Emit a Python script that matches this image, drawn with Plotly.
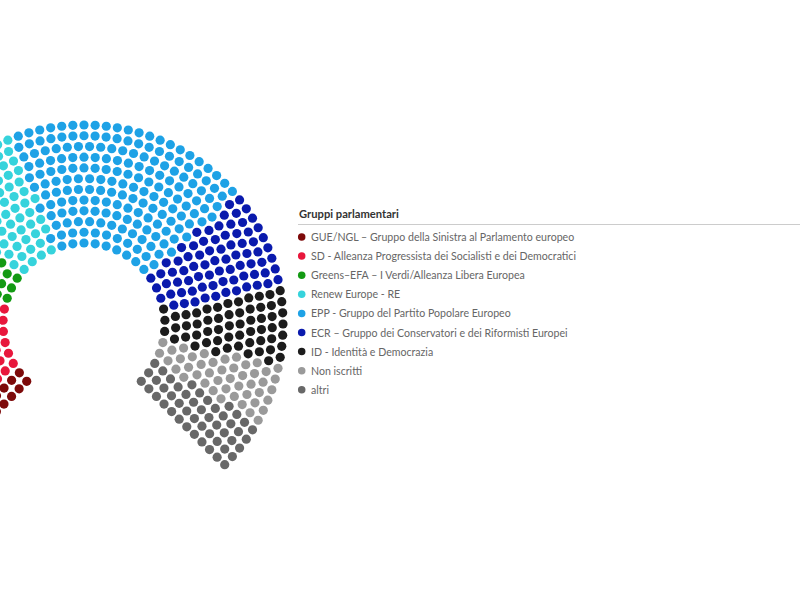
import math
import plotly.graph_objects as go

# ---- data ----
groups = [
    "GUE/NGL – Gruppo della Sinistra al Parlamento europeo",
    "SD - Alleanza Progressista dei Socialisti e dei Democratici",
    "Greens–EFA – I Verdi/Alleanza Libera Europea",
    "Renew Europe - RE",
    "EPP - Gruppo del Partito Popolare Europeo",
    "ECR – Gruppo dei Conservatori e dei Riformisti Europei",
    "ID - Identità e Democrazia",
    "Non iscritti",
    "altri",
]
seats = [36, 136, 52, 80, 189, 76, 58, 45, 48]
colors = ["#7d0a0a", "#e8173c", "#139a13", "#36d3dc", "#1ea2e6",
          "#0a1aad", "#1c1c1c", "#9a9a9a", "#686868"]
legend_title = "Gruppi parlamentari"

# ---- hemicycle layout (item-series style) ----
CX, CY = 84, 324          # centre in pixel space
R_IN, R_OUT, N_ROWS = 81.0, 199.0, 12
STEP = (R_OUT - R_IN) / (N_ROWS - 1)
START_DEG, END_DEG = -135, 135


def hemicycle(total):
    start = math.radians(START_DEG - 90)
    full = math.radians(END_DEG - START_DEG)
    rows = []
    count = 0
    for r in range(N_ROWS):
        rad = R_IN + r * STEP
        length = rad * full
        cc = math.ceil(length / STEP)
        rows.append([rad, length, cc])
        count += cc + 1
    overshoot = count - total
    while overshoot > 0:
        order = sorted(rows, key=lambda row: -(row[2] / row[1]))
        for row in order[:min(overshoot, math.ceil(len(rows) / 2))]:
            if overshoot > 0:
                row[2] -= 1
                overshoot -= 1
    slots = []
    for rad, length, cc in rows:
        inc = full / cc
        for c in range(cc + 1):
            a = start + c * inc
            slots.append((a, CX + math.cos(a) * rad, CY + math.sin(a) * rad))
    slots.sort(key=lambda s: s[0])
    return slots


slots = hemicycle(sum(seats))

fig = go.Figure()
idx = 0
for name, n, col in zip(groups, seats, colors):
    pts = slots[idx:idx + n]
    idx += n
    fig.add_trace(go.Scatter(
        x=[p[1] for p in pts], y=[p[2] for p in pts], mode="markers",
        marker=dict(size=9.2, color=col, line=dict(width=0)),
        name=name, showlegend=False, hoverinfo="name"))

# ---- custom legend ----
LX, LY0, LDY = 301.7, 237, 19.1
fig.add_trace(go.Scatter(
    x=[LX] * len(groups), y=[LY0 + i * LDY for i in range(len(groups))],
    mode="markers", marker=dict(size=7.5, color=colors),
    showlegend=False, hoverinfo="skip"))
annotations = [dict(x=297, y=213, xref="x", yref="y", text="<b>" + legend_title + "</b>",
                    showarrow=False, xanchor="left", yanchor="middle",
                    font=dict(family="Lato", size=11.2, color="#333333"))]
for i, name in enumerate(groups):
    annotations.append(dict(x=309, y=LY0 + i * LDY, xref="x", yref="y", text=name,
                            showarrow=False, xanchor="left", yanchor="middle",
                            font=dict(family="Lato", size=10.6, color="#666666")))

fig.update_layout(
    width=800, height=600, margin=dict(l=0, r=0, t=0, b=0),
    paper_bgcolor="white", plot_bgcolor="white",
    xaxis=dict(range=[0, 800], visible=False, fixedrange=True),
    yaxis=dict(range=[600, 0], visible=False, fixedrange=True),
    annotations=annotations,
    shapes=[dict(type="line", xref="x", yref="y", x0=298, x1=800, y0=224.5, y1=224.5,
                 line=dict(color="#cccccc", width=1))],
    showlegend=False,
)
fig.write_html("out.html", config={"displayModeBar": False},
               post_script="document.body.style.margin='0';document.body.style.overflow='hidden';")
